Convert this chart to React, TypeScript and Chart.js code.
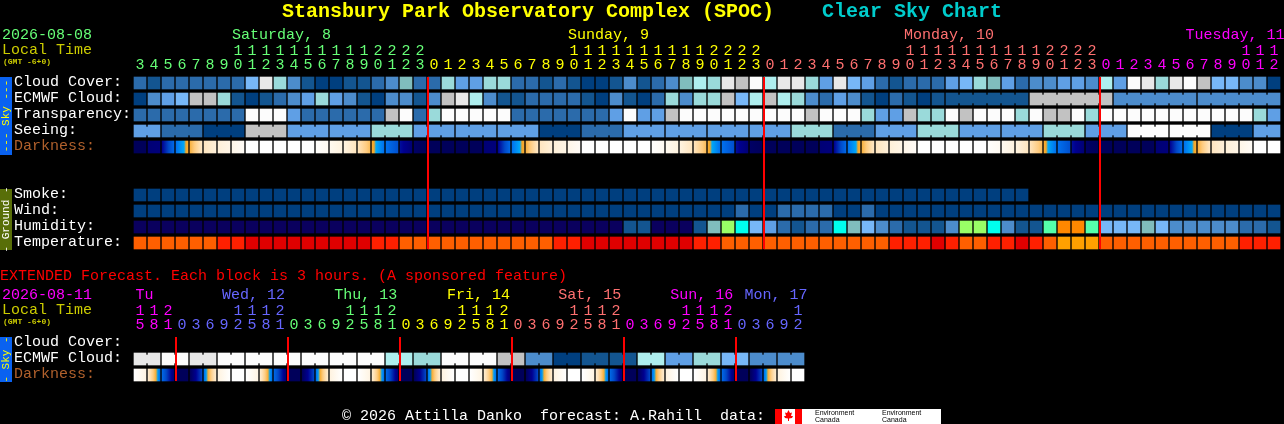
import React, { useEffect, useRef } from "react";
import { Chart, registerables } from "chart.js";

Chart.register(...registerables);

// ---- data ----
const mainHours = [3,4,5,6,7,8,9,10,11,12,13,14,15,16,17,18,19,20,21,22,23,
  0,1,2,3,4,5,6,7,8,9,10,11,12,13,14,15,16,17,18,19,20,21,22,23,
  0,1,2,3,4,5,6,7,8,9,10,11,12,13,14,15,16,17,18,19,20,21,22,23,
  0,1,2,3,4,5,6,7,8,9,10,11,12];
const extHours = [15,18,21,
  0,3,6,9,12,15,18,21, 0,3,6,9,12,15,18,21, 0,3,6,9,12,15,18,21,
  0,3,6,9,12,15,18,21, 0,3,6,9,12,15,18,21, 0,3,6,9,12];
const mainDayNames = ["Saturday, 8", "Sunday, 9", "Monday, 10", "Tuesday, 11"];
const extDayNames = ["Tu", "Wed, 12", "Thu, 13", "Fri, 14", "Sat, 15", "Sun, 16", "Mon, 17"];
const mainDayStarts = [0, 21, 45, 69];
const extDayStarts = [0, 3, 11, 19, 27, 35, 43];
const mainMidnights = [21, 45, 69];
const extMidnights = [3, 11, 19, 27, 35, 43];
const rowNames = ["Cloud Cover:", "ECMWF Cloud:", "Transparency:", "Seeing:", "Darkness:",
  "Smoke:", "Wind:", "Humidity:", "Temperature:",
  "Cloud Cover:", "ECMWF Cloud:", "Darkness:"];

const cloudCover = [2,1,2,2,2,2,2,2,5,10,7,3,1,0,0,1,1,2,3,6,2,
  2,7,4,4,7,7,2,2,1,2,1,0,0,1,3,1,2,3,6,8,7,10,9,11,
  8,10,10,7,4,10,5,4,2,1,2,2,2,4,5,7,6,4,2,3,3,4,4,3,
  8,4,11,10,7,10,11,9,5,5,3,3,0];
const ecmwfCloud = [0,3,4,5,9,9,7,1,0,1,2,3,4,7,4,3,1,0,3,3,1,
  3,9,10,8,3,1,1,2,2,2,2,1,0,3,1,0,2,7,3,7,7,9,5,8,
  9,8,7,3,2,4,3,1,0,2,1,0,1,1,1,1,1,1,1,9,9,9,9,9,
  9,3,3,3,3,3,3,3,3,3,3,3,3];
const ecmwfSpans = [[58,6],[64,6],[70,6],[76,6]];
const transparency = [2,2,2,2,2,2,2,2,11,11,11,4,2,2,2,2,2,2,9,11,2,
  7,11,11,11,11,11,2,2,2,2,2,2,2,4,11,4,4,9,11,11,11,11,11,11,
  11,11,11,9,11,11,11,7,4,4,9,7,7,11,9,11,11,11,7,11,9,9,11,7,
  11,11,11,11,11,11,11,11,11,11,11,7,4];
const seeingSpanLengths = [2,3,3,3,3,3,3,3,3,3,3,3,3,3,3,3,3,3,3,3,3,3,3,3,3,3,3,2];
const seeingSpanLevels = [4,2,0,9,4,4,7,4,4,4,0,2,4,4,4,4,7,2,4,7,4,4,7,4,11,11,0,4];
const darkStart = [8,7.5,7,5,3.7,1.9,1.2,.7,0,0,0,0,0,.1,.5,1,2,3.8,5,6.8,7.8,
  8,8,8,8,7.5,7,5,3.7,1.9,1.2,.7,0,0,0,0,0,.1,.5,1,2,3.8,5,6.8,7.8,
  8,8,8,8,7.5,7,5,3.7,1.9,1.2,.7,0,0,0,0,0,.1,.5,1,2,3.8,5,6.8,7.8,
  8,8,8,8,7.5,7,5,3.7,1.9,1.2,.7,0,0];
const darkEnd = [8,7.4,5.2,3.8,1.8,1.2,.8,.3,0,0,0,0,0,.4,1,1.9,3.4,5,5.8,7.5,8,
  8,8,8,8,7.4,5.2,3.8,1.8,1.2,.8,.3,0,0,0,0,0,.4,1,1.9,3.4,5,5.8,7.5,8,
  8,8,8,8,7.4,5.2,3.8,1.8,1.2,.8,.3,0,0,0,0,0,.4,1,1.9,3.4,5,5.8,7.5,8,
  8,8,8,8,7.4,5.2,3.8,1.8,1.2,.8,.3,0,0];
const smoke = [0,0,0,0,0,0,0,0,0,0,0,0,0,0,0,0,0,0,0,0,0,
  0,0,0,0,0,0,0,0,0,0,0,0,0,0,0,0,0,0,0,0,0,0,0,0,
  0,0,0,0,0,0,0,0,0,0,0,0,0,0,0,0,0,0,0];
const wind = [0,0,0,0,0,0,0,0,0,0,0,0,0,0,0,0,0,0,0,0,0,
  0,0,0,0,0,0,0,0,0,0,0,0,0,0,0,0,0,0,0,0,0,0,2,0,
  0,2,2,2,2,0,0,2,0,0,0,0,0,0,0,0,0,0,0,0,0,0,0,0,
  0,0,0,0,0,0,0,0,0,0,0,0,0];
const humidity = [0,0,0,0,0,0,0,0,0,0,0,0,0,0,0,0,0,0,0,0,0,
  0,0,0,0,0,0,0,0,0,0,0,0,0,0,1,1,0,0,0,1,6,9,7,5,
  4,2,1,2,2,7,6,5,3,2,1,1,1,3,9,9,7,3,1,1,8,10,10,8,
  5,5,5,6,5,3,3,3,3,3,2,2,1];
const temperature = [2,2,2,2,2,2,1,1,0,0,0,0,0,0,0,0,0,1,1,2,2,
  2,2,2,2,2,2,2,2,2,1,1,0,0,0,0,0,0,0,0,1,1,2,2,2,
  2,2,2,2,2,2,2,2,2,1,1,1,0,1,2,2,1,1,0,1,2,3,3,3,
  2,2,2,2,2,2,2,2,2,2,1,1,1];
const extEcmwfPairs = [10,11,10,11,11,11,11,11,11,8,7,11,11,9,3,0,1,1,8,4,7,5,3,3];
const extDarkStart = [0,1.5,5.2, 8,8,5,1,0, 0,1.5,5.2, 8,8,5,1,0, 0,1.5,5.2, 8,8,5,1,0,
  0,1.5,5.2, 8,8,5,1,0, 0,1.5,5.2, 8,8,5,1,0, 0,1.5,5.2, 8,8,5,1,0];
const extDarkEnd = [.9,5,7.5, 8,6,1.5,0,0, .9,5,7.5, 8,6,1.5,0,0, .9,5,7.5, 8,6,1.5,0,0,
  .9,5,7.5, 8,6,1.5,0,0, .9,5,7.5, 8,6,1.5,0,0, .9,5,7.5, 8,6,1.5,0,0];

// ---- styles ----
const levelColors = ["#003f7f","#135590","#2b6bab","#4c8ccc","#5f9fe5","#77b7f7","#80bdbd","#9adada","#aeeeee","#c2c2c2","#e8e8e8","#fcfcfc"];
const humidityColors = ["#0a005e","#135590","#2b6bab","#4c8ccc","#5f9fe5","#77b7f7","#80bdbd","#00ffee","#55ffaa","#99ff66","#ff8800"];
const temperatureColors = ["#e00000","#ff2000","#ff5f00","#ffa000"];
const darkStops: [number, number[]][] = [
  [0,[255,255,255]],[1,[255,243,224]],[2,[255,228,188]],[3,[255,204,128]],[4,[245,166,35]],
  [4.2,[0,168,248]],[5,[0,112,238]],[6,[0,72,200]],[7,[0,0,144]],[8,[0,0,90]],
];
const MONO = '"Liberation Mono"';
const GREEN = "#66ff77", YELLOW = "#ffff00", SALMON = "#ff7070", MAGENTA = "#ff00ff", PERI = "#6666ff";
const mainDayColors = [GREEN, YELLOW, SALMON, MAGENTA];
const extDayColors = [MAGENTA, PERI, GREEN, YELLOW, SALMON, MAGENTA, PERI];
const rowColors = ["#fff","#fff","#fff","#fff","#b0602c","#fff","#fff","#fff","#fff","#fff","#fff","#b0602c"];

// ---- layout: one column is 14px, one row is 16px ----
const CW = 14, RH = 16, X0 = 140, Y0 = 83;
const xMin = -X0 / CW, xMax = (1284 - X0) / CW;
const yMin = -Y0 / RH, yMax = (424 - Y0) / RH;
const yAt = (px: number) => (px - Y0) / RH;
const rowValues = [0, 1, 2, 3, 4, 7, 8, 9, 10, yAt(343), yAt(359), yAt(375)];
const rowOf = { cloud: 0, ecmwf: 1, transp: 2, seeing: 3, dark: 4, smoke: 7, wind: 8, hum: 9, temp: 10, xEcmwf: yAt(359), xDark: yAt(375) };
const HALF = 6 / RH, LINK = 4 / RH, LABEL_LIFT = 1 / RH;

function darkColor(v: number) {
  for (let i = 1; i < darkStops.length; i++) {
    const [a, ca] = darkStops[i - 1], [b, cb] = darkStops[i];
    if (v <= b) {
      const t = (v - a) / (b - a);
      return `rgb(${ca.map((c, k) => Math.round(c + (cb[k] - c) * t)).join(",")})`;
    }
  }
  return "rgb(0,0,90)";
}
const colorByStart = (starts: number[], colors: string[], col: number) => {
  let c = colors[0];
  starts.forEach((s, i) => { if (col >= s) c = colors[i]; });
  return c;
};
const expand = (lens: number[], vals: number[]) => lens.flatMap((n, i) => Array(n).fill(vals[i]));
const seeing = expand(seeingSpanLengths, seeingSpanLevels);
const extEcmwf = extEcmwfPairs.flatMap((v) => [v, v]);

const cellSet = (values: number[], row: number, colors: string[]) => ({
  type: "bar" as const, order: 2, grouped: false, barThickness: 12, borderWidth: 0, borderSkipped: false,
  data: values.map((v, i) => ({ x: i, y: [row - HALF, row + HALF] })),
  backgroundColor: values.map((v) => colors[v]),
});
const linkSet = (spans: number[][], values: number[], row: number) => {
  const cols = spans.flatMap(([s, n]) => Array.from({ length: n - 1 }, (_, k) => s + k));
  return {
    type: "bar" as const, order: 2, grouped: false, barThickness: 2, borderWidth: 0, borderSkipped: false,
    data: cols.map((c) => ({ x: c + 0.5, y: [row - LINK, row + LINK] })),
    backgroundColor: cols.map((c) => levelColors[values[c]]),
  };
};
const darkSet = (starts: number[], ends: number[], row: number) => ({
  type: "bar" as const, order: 2, grouped: false, barThickness: 12, borderWidth: 0, borderSkipped: false,
  data: starts.map((_, i) => ({ x: i, y: [row - HALF, row + HALF] })),
  backgroundColor: (c: any) => {
    const i = c.dataIndex;
    if (i === undefined) return "#000";
    const px = X0 + CW * i;
    const g = c.chart.ctx.createLinearGradient(px - 6, 0, px + 6, 0);
    for (let k = 0; k <= 12; k++) g.addColorStop(k / 12, darkColor(starts[i] + ((ends[i] - starts[i]) * k) / 12));
    return g;
  },
});
const redLine = (col: number, top: number, bottom: number) => ({
  type: "line" as const, order: 1, borderColor: "#ff0000", borderWidth: 2, pointRadius: 0,
  data: [{ x: col - 6 / CW, y: yAt(top) }, { x: col - 6 / CW, y: yAt(bottom) }],
});

const labelAxis = (centerPx: number, values: number[], text: (i: number) => string, color: (i: number) => string) => ({
  type: "linear" as const, axis: "x", min: xMin, max: xMax, offset: false,
  position: { y: yAt(centerPx - 9) },
  grid: { display: false, drawTicks: false }, border: { display: false },
  afterBuildTicks: (a: any) => { a.ticks = values.map((value) => ({ value })); },
  afterFit: (a: any) => { a.paddingLeft = 0; a.paddingRight = 0; a.paddingTop = 0; a.paddingBottom = 0; },
  ticks: {
    autoSkip: false, maxRotation: 0, minRotation: 0, padding: 0,
    font: { family: MONO, size: 15 },
    color: (c: any) => color(c.index),
    callback: (_: any, i: number) => text(i),
  },
});
const tensCols = (hours: number[]) => hours.map((h, i) => (h >= 10 ? i : -1)).filter((i) => i >= 0);
const mainTens = tensCols(mainHours), extTens = tensCols(extHours);
const allCols = (hours: number[]) => hours.map((_, i) => i);
const labelCenter = (startCol: number, name: string) => startCol + ((name.length - 1) * 4.5) / CW;
const mainDayAnchors = [6.9, 30.9, 54.9, 75];
const extDayAnchors = [0, 6.18, 14.2, 22.25, 30.2, 38.2, 43.5];

const textPlugin = {
  id: "sheet",
  beforeDatasetsDraw(chart: any) {
    const g = chart.ctx;
    const put = (s: string, x: number, y: number, color: string, font: string) => {
      g.fillStyle = color; g.font = font; g.textAlign = "left"; g.textBaseline = "middle";
      g.fillText(s, x, y);
    };
    const f15 = `15px ${MONO}`;
    g.save();
    put("Stansbury Park Observatory Complex (SPOC)", 282, 12, YELLOW, `bold 20px ${MONO}`);
    put("Clear Sky Chart", 822, 12, "#00cccc", `bold 20px ${MONO}`);
    put("2026-08-08", 2, 35, GREEN, f15);
    put("Local Time", 2, 50, "#cccc00", f15);
    put("(GMT -6+0)", 3, 62, "#cccc00", `bold 8px ${MONO}`);
    put("EXTENDED Forecast. Each block is 3 hours. (A sponsored feature)", 0, 276, "#ff0000", f15);
    put("2026-08-11", 2, 295, MAGENTA, f15);
    put("Local Time", 2, 310, "#cccc00", f15);
    put("(GMT -6+0)", 3, 322, "#cccc00", `bold 8px ${MONO}`);
    put("\u00a9 2026 Attilla Danko  forecast: A.Rahill  data:", 342, 416, "#fff", f15);

    const side = (top: number, bottom: number, bg: string, fg: string, s: string) => {
      g.fillStyle = bg; g.fillRect(0, top, 12, bottom - top);
      g.save(); g.translate(6, (top + bottom) / 2); g.rotate(-Math.PI / 2);
      g.fillStyle = fg; g.font = `11px ${MONO}`; g.textAlign = "center"; g.textBaseline = "middle";
      g.fillText(s, 0, 0); g.restore();
    };
    side(77, 155, "#0a62f0", YELLOW, "--- Sky ---");
    side(189, 250, "#586e08", "#fff", "- Ground -");
    side(337, 382, "#0a62f0", YELLOW, "- Sky -");

    g.fillStyle = "#fff"; g.fillRect(775, 409, 166, 15);
    g.fillStyle = "#ff0000"; g.fillRect(775, 409, 7, 15); g.fillRect(795, 409, 7, 15);
    g.beginPath();
    [[788.5,410],[790,413],[792,412.5],[791,416],[793,416],[792,418],[789,418.5],[789,421],[788,421],[788,418.5],[785,418],[784,416],[786,416],[785,412.5],[787,413]]
      .forEach(([x, y], i) => (i ? g.lineTo(x, y) : g.moveTo(x, y)));
    g.closePath(); g.fill();
    for (const x of [815, 882]) {
      put("Environment", x, 413, "#000", "7px Liberation Sans");
      put("Canada", x, 420, "#000", "7px Liberation Sans");
    }
    g.restore();
  },
};

export default function App() {
  const ref = useRef<HTMLCanvasElement>(null);
  useEffect(() => {
    document.body.style.margin = "0";
    document.body.style.background = "#000";
    const chart = new Chart(ref.current as HTMLCanvasElement, {
      type: "bar",
      data: {
        datasets: [
          ...mainMidnights.map((c) => redLine(c, 77, 249)),
          ...extMidnights.map((c) => redLine(c, 337, 381)),
          cellSet(cloudCover, rowOf.cloud, levelColors),
          cellSet(ecmwfCloud, rowOf.ecmwf, levelColors),
          linkSet(ecmwfSpans, ecmwfCloud, rowOf.ecmwf),
          cellSet(transparency, rowOf.transp, levelColors),
          cellSet(seeing, rowOf.seeing, levelColors),
          linkSet(seeingSpanLengths.map((n, i) => [seeingSpanLengths.slice(0, i).reduce((a, b) => a + b, 0), n]), seeing, rowOf.seeing),
          darkSet(darkStart, darkEnd, rowOf.dark),
          cellSet(smoke, rowOf.smoke, levelColors),
          cellSet(wind, rowOf.wind, levelColors),
          cellSet(humidity, rowOf.hum, humidityColors),
          cellSet(temperature, rowOf.temp, temperatureColors),
          cellSet(extEcmwf, rowOf.xEcmwf, levelColors),
          linkSet(extEcmwfPairs.map((_, i) => [i * 2, 2]), extEcmwf, rowOf.xEcmwf),
          darkSet(extDarkStart, extDarkEnd, rowOf.xDark),
        ] as any,
      },
      options: {
        responsive: false, animation: false, events: [],
        layout: { padding: 0 },
        plugins: { legend: { display: false }, tooltip: { enabled: false }, title: { display: false } },
        scales: {
          x: { type: "linear", min: xMin, max: xMax, display: false, offset: false },
          y: {
            type: "linear", min: yMin, max: yMax, reverse: true, position: "left",
            grid: { display: false, drawTicks: false }, border: { display: false },
            afterBuildTicks: (a: any) => { a.ticks = rowValues.map((r) => ({ value: r - LABEL_LIFT })); },
            afterFit: (a: any) => { a.width = 0; a.paddingTop = 0; a.paddingBottom = 0; },
            ticks: {
              mirror: true, padding: 14, autoSkip: false,
              font: { family: MONO, size: 15 },
              color: (c: any) => rowColors[c.index],
              callback: (_: any, i: number) => rowNames[i],
            },
          },
          xOnes: labelAxis(65, allCols(mainHours), (i) => String(mainHours[i] % 10), (i) => colorByStart(mainDayStarts, mainDayColors, i)),
          xTens: labelAxis(51, mainTens, (i) => String(Math.floor(mainHours[mainTens[i]] / 10)), (i) => colorByStart(mainDayStarts, mainDayColors, mainTens[i])),
          xDays: labelAxis(35, mainDayNames.map((n, i) => labelCenter(mainDayAnchors[i], n)), (i) => mainDayNames[i], (i) => mainDayColors[i]),
          xExtOnes: labelAxis(325, allCols(extHours), (i) => String(extHours[i] % 10), (i) => colorByStart(extDayStarts, extDayColors, i)),
          xExtTens: labelAxis(311, extTens, (i) => String(Math.floor(extHours[extTens[i]] / 10)), (i) => colorByStart(extDayStarts, extDayColors, extTens[i])),
          xExtDays: labelAxis(295, extDayNames.map((n, i) => labelCenter(extDayAnchors[i], n)), (i) => extDayNames[i], (i) => extDayColors[i]),
        } as any,
      },
      plugins: [textPlugin],
    });
    return () => chart.destroy();
  }, []);
  return <canvas ref={ref} width={1284} height={424} style={{ display: "block", background: "#000" }} />;
}
